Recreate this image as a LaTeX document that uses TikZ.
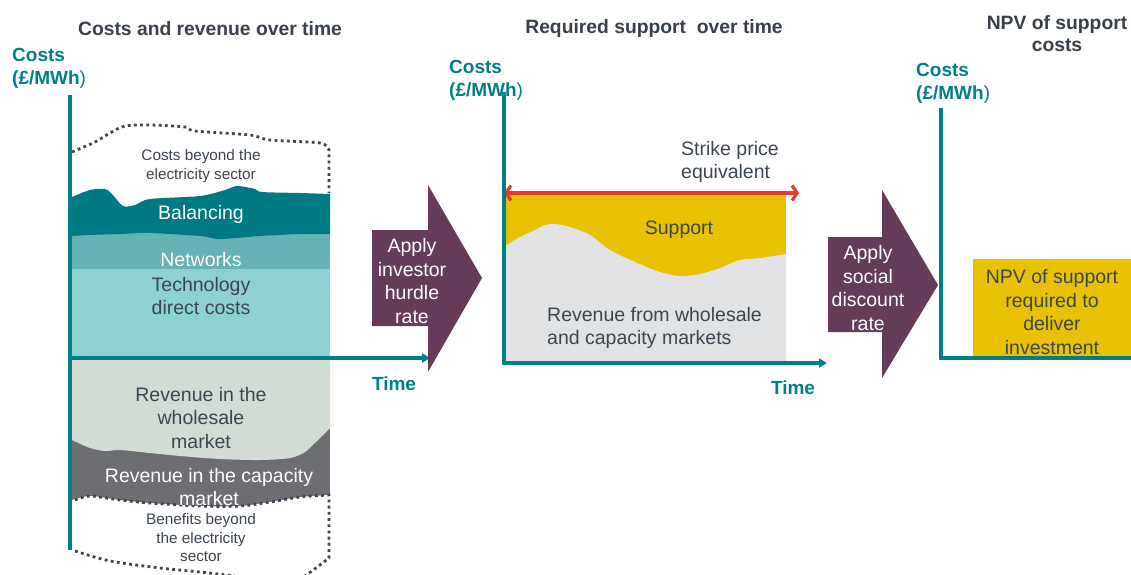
\documentclass[tikz,border=0pt]{standalone}
\usepackage{fontspec}
\setmainfont{Liberation Sans}
\usetikzlibrary{arrows.meta}
\definecolor{axisteal}{HTML}{007F86}
\definecolor{titlegray}{HTML}{38404A}
\definecolor{textgray}{HTML}{3C4650}
\definecolor{balcol}{HTML}{007A82}
\definecolor{netcol}{HTML}{67B2B6}
\definecolor{techcol}{HTML}{8ED1D1}
\definecolor{wholecol}{HTML}{D3DCD4}
\definecolor{capcol}{HTML}{6D6E72}
\definecolor{hurdle}{HTML}{663B5A}
\definecolor{supportcol}{HTML}{E8C100}
\definecolor{revcol}{HTML}{E0E2E4}
\definecolor{strikecol}{HTML}{E8392E}
\tikzset{
  axisline/.style={draw=axisteal, line width=3.8pt},
  axisarrow/.style={axisline, -{Triangle[length=8pt,width=9pt]}},
  dotline/.style={draw=textgray, line width=2.8pt, dash pattern=on 2.8pt off 3.4pt},
  title/.style={font=\fontsize{19.3}{22}\selectfont\bfseries, text=titlegray, align=center, inner sep=0pt},
  unitlabel/.style={font=\fontsize{19}{23}\selectfont\bfseries, text=axisteal, align=left, inner sep=0pt, anchor=west},
  timelabel/.style={font=\fontsize{19}{23}\selectfont\bfseries, text=axisteal, inner sep=0pt},
  body/.style={font=\fontsize{19.5}{23.5}\selectfont, text=textgray, align=center, inner sep=0pt},
  bodywhite/.style={body, text=white},
  small/.style={font=\fontsize{15.3}{18.5}\selectfont, text=textgray, align=center, inner sep=0pt},
  stepshape/.style={fill=hurdle},
}
\begin{document}
\begin{tikzpicture}[x=1pt,y=-1pt]
\useasboundingbox (0,0) rectangle (1131,574);

% ---------------- Costs and revenue over time ----------------
\node[title] (t1) at (210,29) {Costs and revenue over time};
\node[unitlabel] (u1) at (12,68) {Costs\\(£/MWh{\mdseries)}};

% cost stack
\fill[techcol] (72,266) rectangle (330,358);
\fill[netcol] (72,225) rectangle (330,269);
\fill[balcol] plot[smooth,tension=0.5] coordinates {(72,197) (90,190) (105,189) (112,194) (123,206) (135,205) (150,199) (200,196) (225,190) (237,186) (255,189) (262,192) (300,193) (330,194)}
  -- (330,234) -- plot[smooth,tension=0.5] coordinates {(330,234) (300,234) (260,236) (220,239) (200,236) (150,233) (120,234) (90,235) (72,236)} -- cycle;

% revenue stack
\fill[capcol] (72,420) rectangle (330,512);
\fill[wholecol] (72,358) -- (330,358) -- (330,428) -- plot[smooth,tension=0.5] coordinates {(330,428) (318,440) (305,452) (290,458) (260,460) (220,459) (180,456) (150,453) (120,450) (105,451) (90,448) (72,440)} -- cycle;
\fill[white] plot[smooth,tension=0.5] coordinates {(72,500) (90,496) (120,500) (150,503) (200,506) (240,506) (270,502) (300,497) (330,495)} -- (330,574) -- (72,574) -- cycle;

% dotted boundaries beyond the electricity sector
\draw[dotline] plot[smooth,tension=0.5] coordinates {(72,152) (95,142) (110,133) (125,126) (150,125) (185,127) (195,131) (250,135) (270,140) (320,143) (329,150)} -- (329,193);
\draw[dotline] plot[smooth,tension=0.5] coordinates {(75,500) (90,496) (120,500) (150,503) (200,506) (240,506) (270,502) (300,497) (329,495)} -- (329,558) .. controls (320,565) .. (305,576);
\draw[dotline] plot[smooth,tension=0.5] coordinates {(75,551) (110,561) (160,568) (200,572) (235,576)};

\node[small] (cb) at (201,166) {Costs beyond the\\electricity sector};
\node[bodywhite] (bal) at (201,214) {Balancing};
\node[bodywhite] (net) at (201,260) {Networks};
\node[body] (tech) at (201,296) {Technology\\direct costs};
\node[body] (rw) at (201,418) {Revenue in the\\wholesale\\market};
\node[bodywhite] (rc) at (209,487) {Revenue in the capacity\\market};
\node[small] (bb) at (201,538) {Benefits beyond\\the electricity\\sector};

\coordinate (o1) at (70,358);
\coordinate (y1) at (70,95);
\coordinate (y1b) at (70,550);
\coordinate (x1) at (430,358);
\draw[axisline] (y1) -- (y1b);
\draw[axisarrow] (o1) -- (x1);
\node[timelabel] (tm1) at (394,384) {Time};

% first step arrow
\path[stepshape] (372,230) -- (428,230) -- (428,185) -- (482,278) -- (428,372) -- (428,326) -- (372,326) -- cycle;
\node[bodywhite] (s1) at (412,281) {Apply\\investor\\hurdle\\rate};

% ---------------- Required support over time ----------------
\node[title] (t2) at (654,29) {Required support\ \ over time};
\node[unitlabel] (u2) at (449,80) {Costs\\(£/MWh{\mdseries)}};

\fill[supportcol] (505,195) rectangle (786,362);
\fill[revcol] (505,362) -- plot[smooth,tension=0.5] coordinates {(505,246) (520,237) (535,230) (545,225) (555,224) (570,227) (590,235) (610,250) (635,262) (660,272) (680,276) (700,274) (720,268) (740,260) (760,258) (786,254)} -- (786,362) -- cycle;

\coordinate (sa) at (504,193);
\coordinate (sb) at (799,193);
\draw[strikecol, line width=3.2pt, {Straight Barb[length=5pt,width=15pt]}-{Straight Barb[length=5pt,width=15pt]}] (sa) -- (sb);
\node[body, align=left, anchor=west] (sp) at (681,162) {Strike price\\equivalent};
\node[body] (sup) at (679,230) {Support};
\node[body, align=left, anchor=west] (rev) at (547,328) {Revenue from wholesale\\and capacity markets};

\coordinate (o2) at (504,363);
\coordinate (y2) at (504,92);
\coordinate (x2) at (827,363);
\draw[axisline] (y2) -- ([yshift=1.9pt]o2);
\draw[axisarrow] ([xshift=-1.9pt]o2) -- (x2);
\node[timelabel] (tm2) at (793,388) {Time};

% second step arrow
\path[stepshape] (828,237) -- (882,237) -- (882,190) -- (938,285) -- (882,378) -- (882,332) -- (828,332) -- cycle;
\node[bodywhite] (s2) at (868,288) {Apply\\social\\discount\\rate};

% ---------------- NPV of support costs ----------------
\node[title] (t3) at (1057,34) {NPV of support\\costs};
\node[unitlabel] (u3) at (916,83) {Costs\\(£/MWh{\mdseries)}};

\fill[supportcol] (973,259) rectangle (1131,356);
\node[body] (npv) at (1052,312) {NPV of support\\required to\\deliver\\investment};

\coordinate (o3) at (941,358);
\coordinate (y3) at (941,108);
\coordinate (x3) at (1133,358);
\draw[axisline] (y3) -- ([yshift=1.9pt]o3);
\draw[axisline] ([xshift=-1.9pt]o3) -- (x3);
\end{tikzpicture}
\end{document}
